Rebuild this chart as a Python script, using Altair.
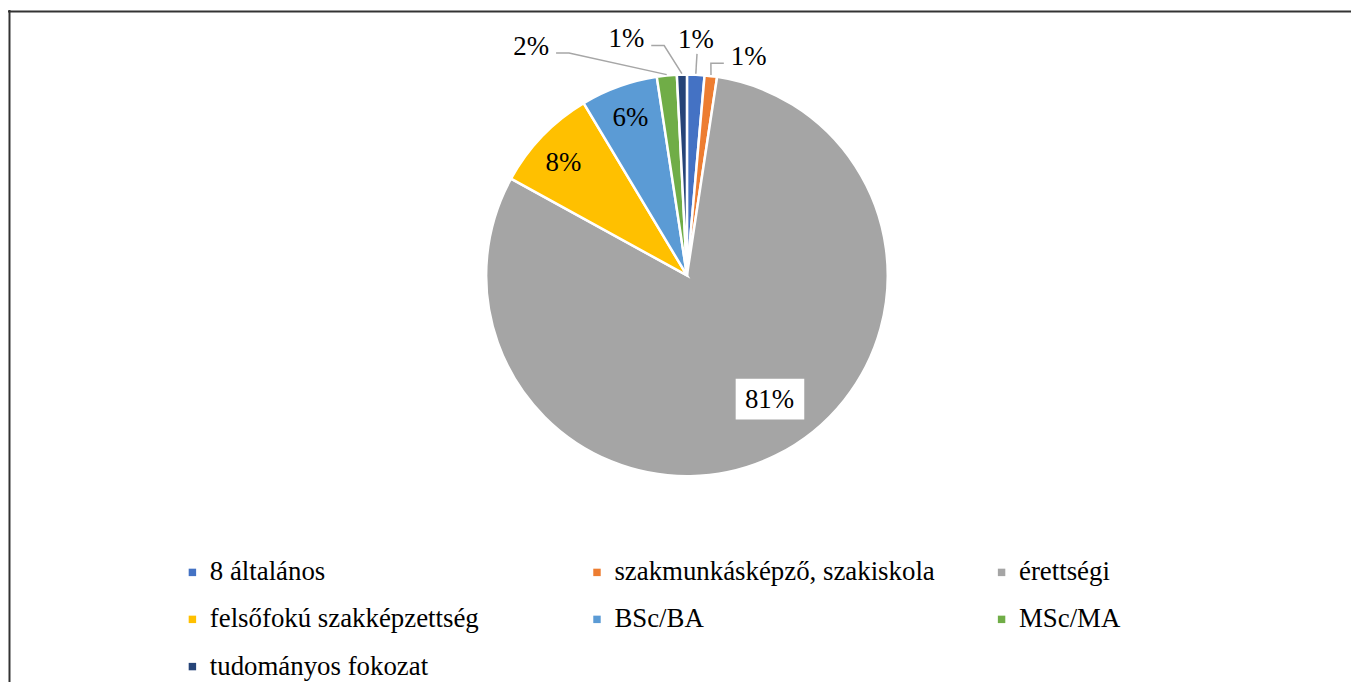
import math
import altair as alt
import pandas as pd

# ---- data ----
categories = ["8 általános", "szakmunkásképző, szakiskola", "érettségi",
              "felsőfokú szakképzettség", "BSc/BA", "MSc/MA", "tudományos fokozat"]
values = [1.4, 1.0, 80.6, 8.4, 6.2, 1.6, 0.8]
colors = ["#4472C4", "#ED7D31", "#A5A5A5", "#FFC000", "#5B9BD5", "#70AD47", "#264478"]

# label placement (polar, relative to pie centre): angle in degrees, radius in px
label_angle = [2.2, 15.8, 146.4, -47.7, -19.8, -34.3, -14.4]
label_radius = [237, 228, 150, 168, 168, 278, 245]
label_side = ["below", "right", "inside", "inside", "inside", "left", "left"]

# ---- layout ----
W, H = 1351, 676
CX, CY, R = 683, 267, 202
FONT = "Liberation Serif"

labels = [f"{round(v)}%" for v in values]
total = sum(values)
starts, acc = [], 0.0
for v in values:
    starts.append(acc)
    acc += v
mids = [(s + v / 2) / total * 2 * math.pi for s, v in zip(starts, values)]

pie_df = pd.DataFrame({"cat": categories, "value": values, "idx": list(range(len(values)))})

lab_rows, lead_rows, box_rows = [], [], []
for i, (lab, a, r, side) in enumerate(zip(labels, label_angle, label_radius, label_side)):
    t = math.radians(a)
    lx = CX + r * math.sin(t)
    ly = CY - r * math.cos(t)
    lab_rows.append({"cat": categories[i], "label": lab, "px": lx, "py": ly})
    if side == "inside":
        if values[i] > 50:
            box_rows.append({"x": lx - 34, "x2": lx + 35, "y": ly - 21, "y2": ly + 20})
        continue
    ex = CX + (R + 1) * math.sin(mids[i])
    ey = CY - (R + 1) * math.cos(mids[i])
    hw = 18
    if side == "below":
        pts = [(lx + 1, ly + 14), (ex, ey)]
    elif side == "left":
        sx, sy = lx + hw + 7, ly + 6
        pts = [(sx, sy), (sx + 13, sy), (ex, ey)]
    else:
        sx, sy = lx - hw - 7, ly + 6
        pts = [(sx, sy), (sx - 13, sy), (ex, ey)]
    for k, (x, y) in enumerate(pts):
        lead_rows.append({"cat": categories[i], "seq": k, "px": x, "py": y})

lab_df = pd.DataFrame(lab_rows)
lead_df = pd.DataFrame(lead_rows)
box_df = pd.DataFrame(box_rows)

pie = alt.Chart(pie_df).mark_arc(radius=R, stroke="white", strokeWidth=2.5).encode(
    theta=alt.Theta("value:Q", stack=True),
    order=alt.Order("idx:Q"),
    x=alt.value(CX),
    y=alt.value(CY),
    color=alt.Color(
        "cat:N",
        scale=alt.Scale(domain=categories, range=colors),
        legend=alt.Legend(
            orient="none", legendX=172, legendY=552, columns=3, title=None,
            direction="horizontal",
            symbolType="square", symbolSize=56, symbolStrokeWidth=0,
            labelFont=FONT, labelFontSize=27, labelColor="black",
            labelOffset=4, rowPadding=19.5, columnPadding=53,
            gridAlign="all", labelLimit=0, padding=0,
        ),
    ),
)

leaders = alt.Chart(lead_df).mark_line(color="#A6A6A6", strokeWidth=1.5).encode(
    x=alt.X("px:Q", scale=None, axis=None),
    y=alt.Y("py:Q", scale=None, axis=None),
    detail="cat:N",
    order="seq:Q",
)

boxes = alt.Chart(box_df).mark_rect(color="white").encode(
    x=alt.X("x:Q", scale=None, axis=None), x2="x2:Q",
    y=alt.Y("y:Q", scale=None, axis=None), y2="y2:Q",
)

texts = alt.Chart(lab_df).mark_text(
    font=FONT, fontSize=27, color="black", align="center", baseline="middle"
).encode(
    x=alt.X("px:Q", scale=None, axis=None),
    y=alt.Y("py:Q", scale=None, axis=None),
    text="label:N",
)

frame_top = alt.Chart(alt.Data(values=[{}])).mark_rule(color="#333333", strokeWidth=2).encode(
    x=alt.value(0), x2=alt.value(W), y=alt.value(1.5)
)
frame_left = alt.Chart(alt.Data(values=[{}])).mark_rule(color="#333333", strokeWidth=2).encode(
    x=alt.value(1.5), y=alt.value(0), y2=alt.value(H)
)

chart = alt.layer(pie, leaders, boxes, texts, frame_top, frame_left).properties(
    width=W, height=H, autosize="none", padding=0, background="white"
).configure_view(stroke=None)

chart.save("out.html", embed_options={"renderer": "svg", "actions": False})
